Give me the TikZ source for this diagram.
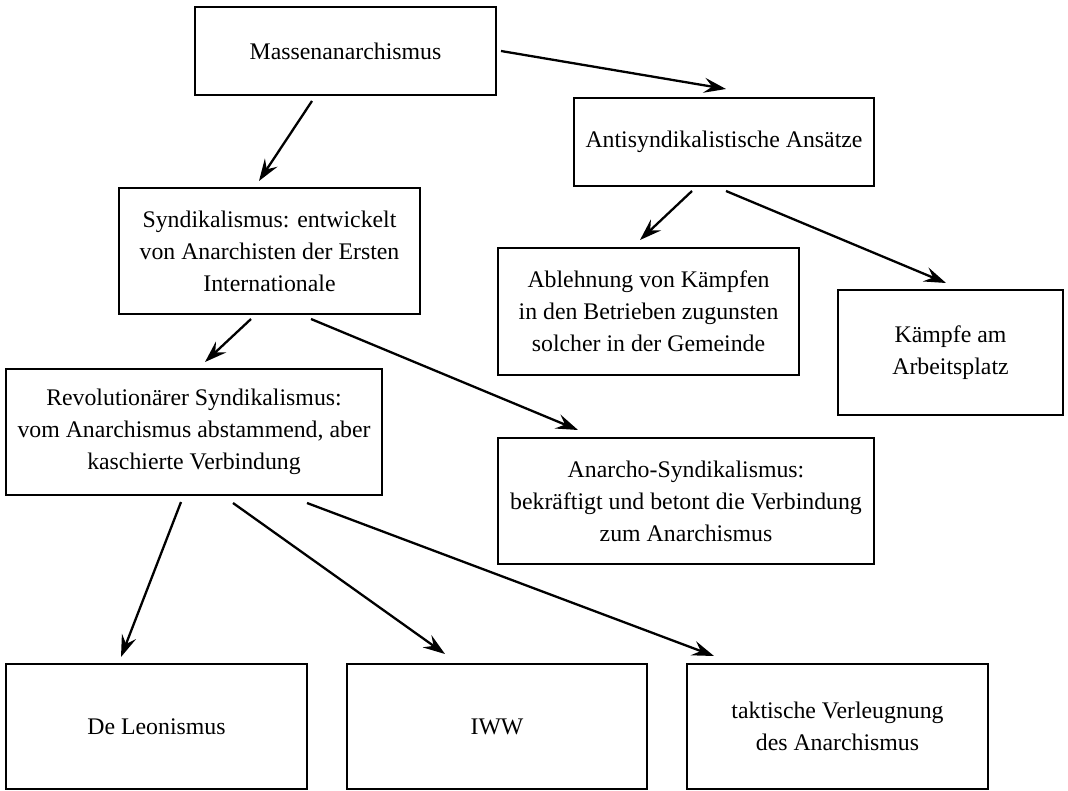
\documentclass[tikz,border=0pt]{standalone}
\usepackage{fontspec}
\setmainfont{Liberation Serif}
\usetikzlibrary{arrows.meta}
\begin{document}
\begin{tikzpicture}[x=1pt,y=-1pt,
  box/.style={draw=black,line width=2.4pt,inner sep=0pt,align=center,
    font=\fontsize{23.8pt}{32pt}\selectfont},
  conn/.style={line width=2.3pt,-{Stealth[length=22pt,width=15pt,inset=8pt]}}]
\useasboundingbox (0,0) rectangle (1068,791);
\node[box,minimum width=301pt,minimum height=88pt] (mass) at (345.5,51) {Massenanarchismus};
\node[box,minimum width=300pt,minimum height=88pt] (anti) at (724,142) {Antisyndikalistische Ansätze};
\node[box,minimum width=301pt,minimum height=126pt] (synd) at (269.5,251) {Syndikalismus: entwickelt\\von Anarchisten der Ersten\\Internationale};
\node[box,minimum width=301pt,minimum height=127pt] (abl) at (648.5,311.5) {Ablehnung von Kämpfen\\in den Betrieben zugunsten\\solcher in der Gemeinde};
\node[box,minimum width=225pt,minimum height=125pt] (kampf) at (950.5,352.5) {Kämpfe am\\Arbeitsplatz};
\node[box,minimum width=376pt,minimum height=126pt] (rev) at (194,432) {Revolutionärer Syndikalismus:\\vom Anarchismus abstammend, aber\\kaschierte Verbindung};
\node[box,minimum width=376pt,minimum height=126pt] (anarcho) at (686,501) {Anarcho-Syndikalismus:\\bekräftigt und betont die Verbindung\\zum Anarchismus};
\node[box,minimum width=301pt,minimum height=125pt] (deleon) at (156.5,726.5) {De Leonismus};
\node[box,minimum width=300pt,minimum height=125pt] (iww) at (497,726.5) {IWW};
\node[box,minimum width=301pt,minimum height=125pt] (takt) at (837.5,726.5) {taktische Verleugnung\\des Anarchismus};

\coordinate (m1) at (501,51);  \coordinate (a0) at (726,89);
\coordinate (m2) at (312,101); \coordinate (s0) at (259,181);
\coordinate (a1) at (692,191); \coordinate (b0) at (640,240);
\coordinate (a2) at (726,191); \coordinate (k0) at (946,283);
\coordinate (s1) at (251,319); \coordinate (r0) at (205,362);
\coordinate (s2) at (311,319); \coordinate (n0) at (578,430);
\coordinate (r1) at (181,502); \coordinate (d0) at (121,657);
\coordinate (r2) at (233,503); \coordinate (i0) at (445,654);
\coordinate (r3) at (307,503); \coordinate (t0) at (714,656);

\draw[conn] (m1) -- (a0);
\draw[conn] (m2) -- (s0);
\draw[conn] (a1) -- (b0);
\draw[conn] (a2) -- (k0);
\draw[conn] (s1) -- (r0);
\draw[conn] (s2) -- (n0);
\draw[conn] (r1) -- (d0);
\draw[conn] (r2) -- (i0);
\draw[conn] (r3) -- (t0);
\end{tikzpicture}
\end{document}
